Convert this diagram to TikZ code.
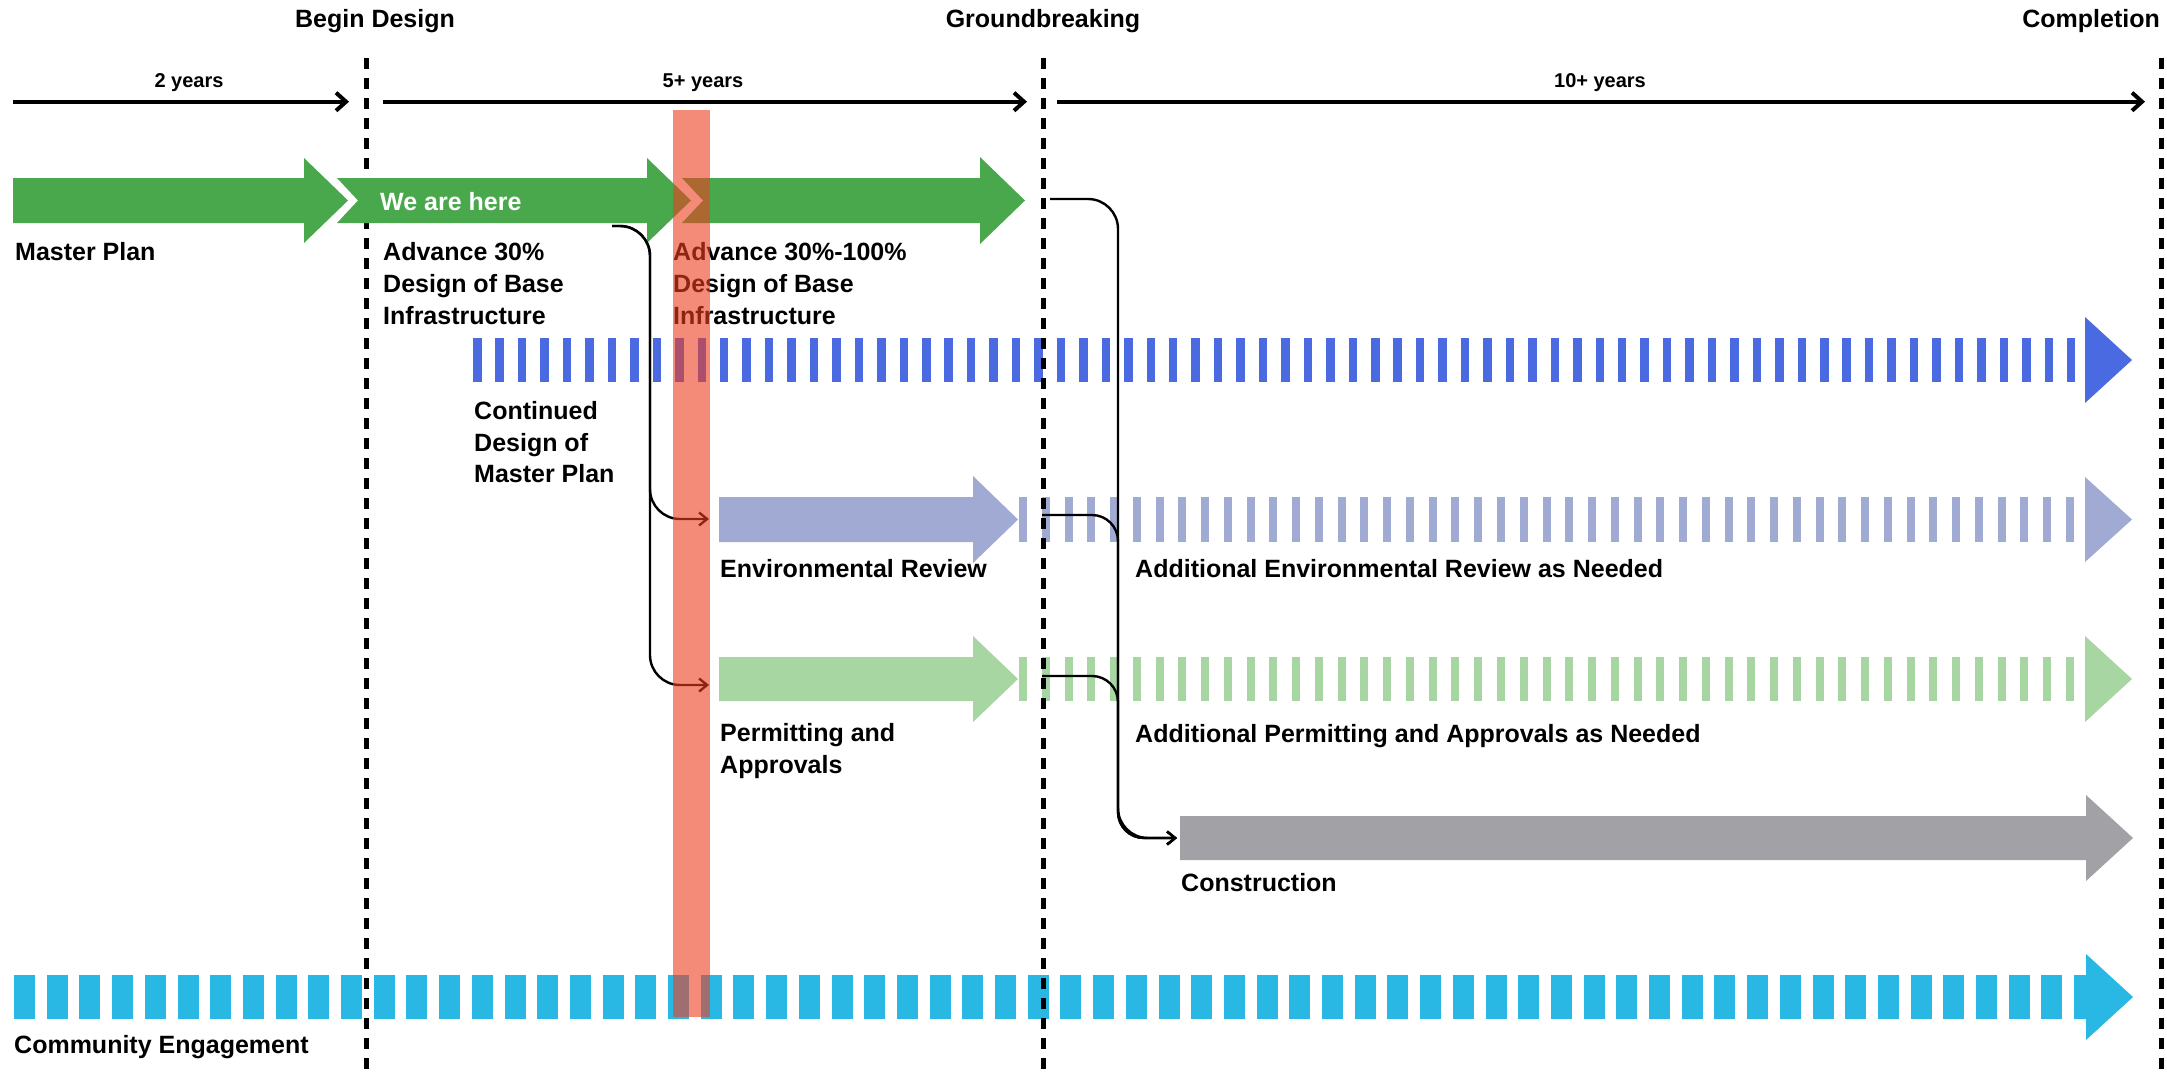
\documentclass[tikz,border=0pt]{standalone}
\usepackage{fontspec}
\setmainfont{Liberation Sans}
\usetikzlibrary{arrows.meta}
\definecolor{greenA}{RGB}{74,168,76}
\definecolor{blueA}{RGB}{74,106,226}
\definecolor{purpleL}{RGB}{160,170,210}
\definecolor{greenL}{RGB}{168,214,162}
\definecolor{grayC}{RGB}{161,161,166}
\definecolor{cyanC}{RGB}{41,184,228}
\definecolor{redbar}{RGB}{238,62,32}
\begin{document}
\begin{tikzpicture}[x=1pt,y=-1pt,
  lbl/.style={font=\bfseries\fontsize{25}{32}\selectfont, inner sep=0pt, anchor=base west},
  hdr/.style={font=\bfseries\fontsize{25}{32}\selectfont, inner sep=0pt, anchor=base},
  yrs/.style={font=\bfseries\fontsize{20}{24}\selectfont, inner sep=0pt, anchor=base},
  milestone/.style={line width=5pt, dash pattern=on 11pt off 9pt},
  timeline/.style={line width=4pt, -{Straight Barb[length=10pt,width=18pt]}},
  conn/.style={line width=2.4pt, rounded corners=30pt, -{Straight Barb[length=8pt,width=13pt]}},
]
\useasboundingbox (0,0) rectangle (2167,1074);
\fill[white] (0,0) rectangle (2167,1074);

% ---- continued design of master plan (blue dashed) ----
\foreach \i in {0,...,71} \fill[blueA] ({473+22.45*\i},338) rectangle ++(8.5,44);
\fill[blueA] (2085,317) -- (2132,360) -- (2085,403) -- cycle;

% ---- environmental review ----
\fill[purpleL] (719,497) -- (973,497) -- (973,476) -- (1018,519.5) -- (973,563) -- (973,542) -- (719,542) -- cycle;
\foreach \i in {0,...,46} \fill[purpleL] ({1019+22.76*\i},497) rectangle ++(8,45);
\fill[purpleL] (2085,477) -- (2132,519.5) -- (2085,562) -- cycle;

% ---- permitting ----
\fill[greenL] (719,657) -- (973,657) -- (973,636) -- (1018,679) -- (973,722) -- (973,701) -- (719,701) -- cycle;
\foreach \i in {0,...,46} \fill[greenL] ({1019+22.76*\i},657) rectangle ++(8,44);
\fill[greenL] (2085,636) -- (2132,679) -- (2085,722) -- cycle;

% ---- construction ----
\fill[grayC] (1180,816) -- (2086,816) -- (2086,795) -- (2133,838) -- (2086,881) -- (2086,860) -- (1180,860) -- cycle;

% ---- community engagement ----
\foreach \i in {0,...,62} \fill[cyanC] ({14+32.7*\i},975) rectangle ++(21,44);
\fill[cyanC] (2074,975) rectangle (2086,1019);
\fill[cyanC] (2086,954) -- (2133,997) -- (2086,1040) -- cycle;

% ---- milestone lines ----
\draw[milestone] (366,58) -- (366,1074);
\draw[milestone] (1043,58) -- (1043,1074);
\draw[milestone] (2161,58) -- (2161,1074);

% ---- green design arrows ----
\fill[greenA] (13,178) -- (304,178) -- (304,158) -- (348,200.5) -- (304,243) -- (304,223) -- (13,223) -- cycle;
\fill[greenA] (337,178) -- (647,178) -- (647,158) -- (691,200.5) -- (647,243) -- (647,223) -- (337,223) -- (358,200.5) -- cycle;
\fill[greenA] (682,178) -- (980,178) -- (980,157) -- (1025,200.5) -- (980,244) -- (980,223) -- (682,223) -- (703,200.5) -- cycle;

% ---- headers ----
\node[hdr] (bd) at (375,27) {Begin Design};
\node[hdr] (gb) at (1043,27) {Groundbreaking};
\node[hdr, anchor=base east] (cp) at (2160,27) {Completion};

% ---- timelines ----
\coordinate (t1s) at (13,101.7);  \coordinate (t1e) at (349,101.7);
\coordinate (t2s) at (383,101.7); \coordinate (t2e) at (1027,101.7);
\coordinate (t3s) at (1057,101.7); \coordinate (t3e) at (2145,101.7);
\draw[timeline] (t1s) -- (t1e);
\draw[timeline] (t2s) -- (t2e);
\draw[timeline] (t3s) -- (t3e);
\node[yrs] (y1) at (189,87) {2 years};
\node[yrs] (y2) at (703,87) {5+ years};
\node[yrs] (y3) at (1600,87) {10+ years};

% ---- labels ----
\node[lbl, text=white] (here) at (380,210) {We are here};
\node[lbl] (mp) at (15,260) {Master Plan};
\node[lbl] (a1a) at (383,260) {Advance 30\%};
\node[lbl] (a1b) at (383,292) {Design of Base};
\node[lbl] (a1c) at (383,324) {Infrastructure};
\node[lbl] (a2a) at (673,260) {Advance 30\%-100\%};
\node[lbl] (a2b) at (673,292) {Design of Base};
\node[lbl] (a2c) at (673,324) {Infrastructure};
\node[lbl] (cda) at (474,419) {Continued};
\node[lbl] (cdb) at (474,451) {Design of};
\node[lbl] (cdc) at (474,482) {Master Plan};
\node[lbl] (er) at (720,577) {Environmental Review};
\node[lbl] (pa) at (720,741) {Permitting and};
\node[lbl] (pb) at (720,773) {Approvals};
\node[lbl] (aer) at (1135,577) {Additional Environmental Review as Needed};
\node[lbl] (apa) at (1135,742) {Additional Permitting and Approvals as Needed};
\node[lbl] (con) at (1181,891) {Construction};
\node[lbl] (ce) at (14,1053) {Community Engagement};

% ---- connectors ----
\coordinate (c1s) at (612,226);
\coordinate (bus1) at (650,400);
\coordinate (envin) at (709,519);
\coordinate (perin) at (709,685);
\coordinate (c2s) at (1050,199);
\coordinate (bus2) at (1118,400);
\coordinate (conin) at (1177,838);
\coordinate (c3s) at (1042,515);
\coordinate (c4s) at (1042,676);
\draw[conn] (c1s) -| (bus1) |- (envin);
\draw[conn] (c1s) -| (bus1) |- (perin);
\draw[conn] (c2s) -| (bus2) |- (conin);
\draw[conn,rounded corners=26pt] (c3s) -| (bus2 |- c4s) |- (conin);
\draw[conn,rounded corners=26pt] (c4s) -| (1118,760) |- (conin);

% ---- we are here marker ----
\fill[redbar, opacity=0.6] (673,110) rectangle (710,1017);
\end{tikzpicture}
\end{document}
